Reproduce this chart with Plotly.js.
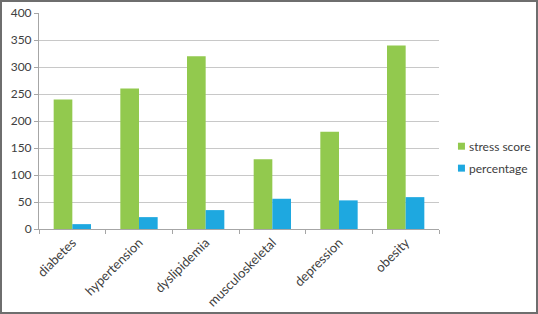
<!DOCTYPE html>
<html>
<head>
<meta charset="utf-8">
<script src="https://cdn.plot.ly/plotly-3.0.1.min.js"></script>
<style>
html,body{margin:0;padding:0;background:#fff;}
#wrap{position:relative;width:538px;height:314px;}
#chart{width:538px;height:314px;}
#frame{position:absolute;left:0;top:0;width:538px;height:314px;box-sizing:border-box;border:2px solid #6e6e6e;pointer-events:none;}
</style>
</head>
<body>
<div id="wrap"><div id="chart"></div><div id="frame"></div></div>
<script>
var categories = ["diabetes", "hypertension", "dyslipidemia", "musculoskeletal", "depression", "obesity"];
var stressScore = [240, 260, 320, 129, 180, 340];
var percentage = [9, 22, 35, 56, 53, 59];
var seriesNames = ["stress score", "percentage"];
var seriesColors = ["#92C94E", "#1EA8E0"];
var yTicks = [0, 50, 100, 150, 200, 250, 300, 350, 400];

var fam = "Lato, 'Open Sans', sans-serif";

var traces = [
  {type: "bar", name: seriesNames[0], x: categories, y: stressScore,
   marker: {color: seriesColors[0]}},
  {type: "bar", name: seriesNames[1], x: categories, y: percentage,
   marker: {color: seriesColors[1]}}
];

// custom legend (square + label), placed right of the plot area
var legendRows = [{y0: 0.3672, y1: 0.3995, ty: 0.3811}, {y0: 0.2656, y1: 0.2979, ty: 0.2794}];
var shapes = [], annotations = [];
legendRows.forEach(function (r, i) {
  shapes.push({type: "rect", xref: "paper", yref: "paper", x0: 1.0474, x1: 1.0649,
               y0: r.y0, y1: r.y1, fillcolor: seriesColors[i], line: {width: 0}});
  annotations.push({xref: "paper", yref: "paper", x: 1.0699, y: r.ty, xanchor: "left",
                    yanchor: "middle", showarrow: false, text: seriesNames[i],
                    font: {family: fam, size: 12, color: "#404040"}});
});

var layout = {
  width: 538, height: 314,
  margin: {l: 38.5, r: 99, t: 13, b: 84.5},
  paper_bgcolor: "#fff", plot_bgcolor: "#fff",
  font: {family: fam, size: 12, color: "#404040"},
  barmode: "group", bargap: 0.44, bargroupgap: 0,
  showlegend: false,
  shapes: shapes,
  annotations: annotations,
  xaxis: {type: "category", tickangle: -45, tickson: "boundaries",
          ticks: "outside", ticklen: 4, tickcolor: "#a6a6a6",
          showline: true, linecolor: "#a6a6a6", linewidth: 1,
          showgrid: false, tickfont: {family: fam, size: 13, color: "#404040"}},
  yaxis: {range: [0, 400], tickvals: yTicks, ticks: "outside", ticklen: 4,
          tickcolor: "#a6a6a6", showline: true, linecolor: "#a6a6a6", linewidth: 1,
          showgrid: true, gridcolor: "#c8c8c8", gridwidth: 1, zeroline: false,
          tickfont: {family: fam, size: 12, color: "#404040"}}
};

Plotly.newPlot("chart", traces, layout, {staticPlot: true, displayModeBar: false});
</script>
</body>
</html>
